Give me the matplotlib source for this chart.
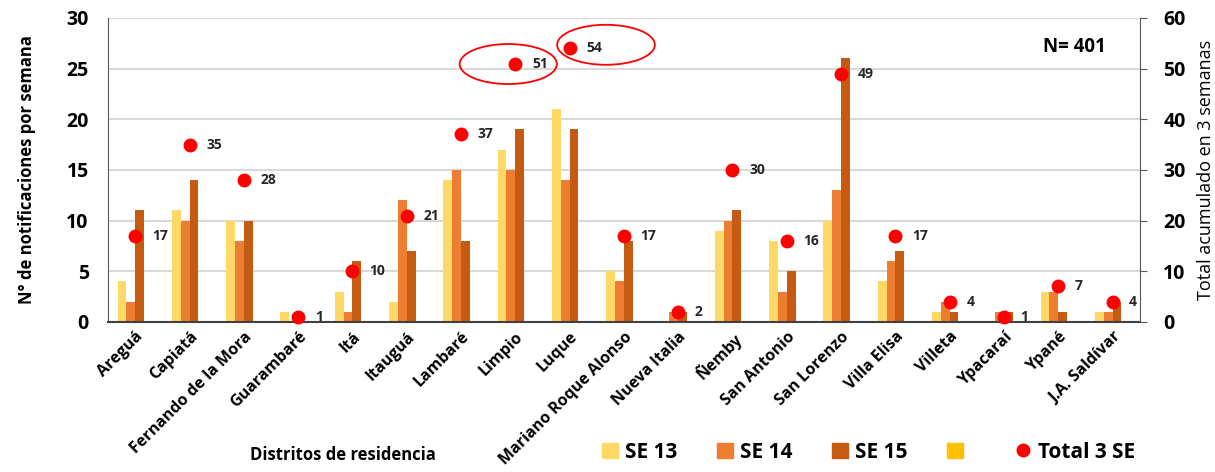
import numpy as np
import matplotlib.pyplot as plt
from matplotlib.patches import Ellipse, Patch
from matplotlib.lines import Line2D

plt.rcParams["font.family"] = ["Open Sans", "DejaVu Sans"]

distritos = ["Areguá", "Capiatá", "Fernando de la Mora", "Guarambaré", "Itá",
             "Itauguá", "Lambaré", "Limpio", "Luque", "Mariano Roque Alonso",
             "Nueva Italia", "Ñemby", "San Antonio", "San Lorenzo", "Villa Elisa",
             "Villeta", "Ypacaraí", "Ypané", "J.A. Saldívar"]
se13 = [4, 11, 10, 1, 3, 2, 14, 17, 21, 5, 0, 9, 8, 10, 4, 1, 0, 3, 1]
se14 = [2, 10, 8, 0, 1, 12, 15, 15, 14, 4, 1, 10, 3, 13, 6, 2, 1, 3, 1]
se15 = [11, 14, 10, 0, 6, 7, 8, 19, 19, 8, 1, 11, 5, 26, 7, 1, 1, 1, 2]
total = [17, 35, 28, 1, 10, 21, 37, 51, 54, 17, 2, 30, 16, 49, 17, 4, 1, 7, 4]

c13, c14, c15, c4 = "#FFD966", "#ED7D31", "#C55A11", "#FFC000"

fig = plt.figure(figsize=(12.15, 4.72), dpi=100)
ax = fig.add_axes([0.089, 0.318, 0.849, 0.644])
x = np.arange(len(distritos))
w = 0.163
ax.bar(x - 1.5 * w, se13, w, color=c13, zorder=2)
ax.bar(x - 0.5 * w, se14, w, color=c14, zorder=2)
ax.bar(x + 0.5 * w, se15, w, color=c15, zorder=2)

ax.set_xlim(-0.5, len(distritos) - 0.5)
ax.set_ylim(0, 30)
ax.set_yticks(range(0, 31, 5))
ax.yaxis.grid(True, color="#d9d9d9", lw=1.5, zorder=0)
ax.set_axisbelow(True)
for s in ["top", "right"]:
    ax.spines[s].set_visible(False)
ax.spines["left"].set_color("#595959")
ax.spines["bottom"].set_color("#404040")
ax.spines["bottom"].set_linewidth(1.5)
ax.tick_params(axis="x", length=0, pad=5)
ax.tick_params(axis="y", length=0, labelsize=14, pad=14)
for t in ax.get_yticklabels():
    t.set_fontweight("bold")
ax.set_xticks(x)
ax.set_xticklabels(distritos, rotation=45, ha="right", rotation_mode="anchor",
                   fontsize=11.5, fontweight="bold")
ax.set_ylabel("N° de notificaciones por semana", fontsize=12, fontweight="bold", labelpad=22)

ax2 = ax.twinx()
ax2.set_ylim(0, 60)
ax2.set_yticks(range(0, 61, 10))
ax2.spines["top"].set_visible(False)
ax2.spines["left"].set_visible(False)
ax2.spines["bottom"].set_visible(False)
ax2.spines["right"].set_color("#595959")
ax2.tick_params(axis="y", length=5, color="#595959", labelsize=14, pad=12)
for t in ax2.get_yticklabels():
    t.set_fontweight("bold")
ax2.set_ylabel("Total acumulado en 3 semanas", fontsize=13, labelpad=8)
ax2.plot(x, total, "o", color="#FF0000", markersize=9, zorder=5, clip_on=False)
for xi, v in zip(x, total):
    ax2.annotate(str(v), (xi, v), xytext=(12, 0), textcoords="offset points",
                 va="center", ha="left", fontsize=10, fontweight="bold", color="#262626")

# ellipses around Limpio and Luque labels
ax2.add_patch(Ellipse((6.87, 50.9), 1.79, 7.9, fill=False, ec="#FF0000", lw=1.3, zorder=6))
ax2.add_patch(Ellipse((8.67, 54.7), 1.80, 7.9, fill=False, ec="#FF0000", lw=1.3, zorder=6))

ax.text(0.967, 0.905, "N= 401", transform=ax.transAxes, ha="right", va="center",
        fontsize=13.5, fontweight="bold")

fig.text(0.282, 0.035, "Distritos de residencia", ha="center", va="center",
         fontsize=12, fontweight="bold")

handles = [Patch(color=c13), Patch(color=c14), Patch(color=c15), Patch(color=c4),
           Line2D([], [], marker="o", ls="", color="#FF0000", markersize=9)]
labels = ["SE 13", "SE 14", "SE 15", " ", "Total 3 SE"]
fig.legend(handles, labels, loc="center", bbox_to_anchor=(0.715, 0.042), ncol=5,
           frameon=False, prop={"size": 15, "weight": "bold"},
           handlelength=0.75, handleheight=0.75, columnspacing=1.9, handletextpad=0.35)

fig.savefig("out.png", dpi=100)
